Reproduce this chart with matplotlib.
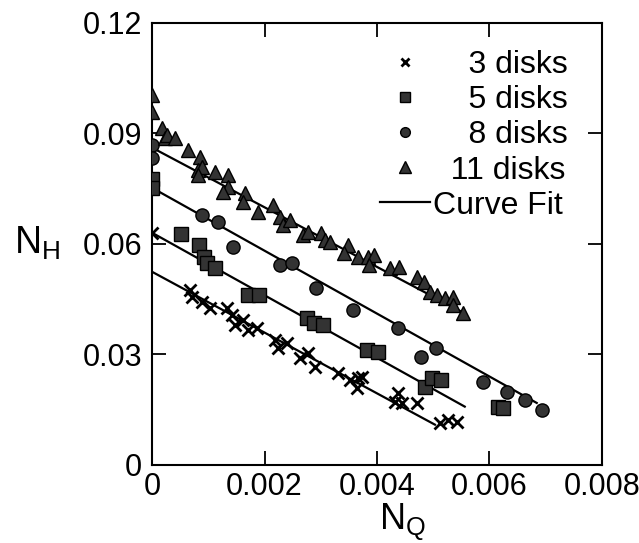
"""N_H vs N_Q for disk stacks, with linear curve fits"""
import matplotlib
matplotlib.use('Agg')
import matplotlib.pyplot as plt
from matplotlib.lines import Line2D

plt.rcParams['font.family'] = ['Liberation Sans', 'DejaVu Sans']
plt.rcParams['mathtext.default'] = 'regular'

# measured points
x3 = [0.0, 0.00068, 0.00071, 0.00089, 0.00103, 0.00133, 0.00142, 0.00148, 0.00162, 0.00171,
      0.00187, 0.00219, 0.00224, 0.0024, 0.00263, 0.00277, 0.0029, 0.00331, 0.00352, 0.00366,
      0.00373, 0.00364, 0.00437, 0.00432, 0.00444, 0.00471, 0.00512, 0.00526, 0.00542]
y3 = [0.063, 0.0475, 0.0456, 0.0443, 0.0426, 0.0426, 0.0407, 0.038, 0.0394, 0.0367,
      0.0372, 0.0339, 0.0318, 0.0331, 0.0291, 0.0304, 0.0266, 0.025, 0.0231, 0.0236,
      0.0239, 0.0209, 0.0195, 0.0171, 0.0168, 0.0168, 0.0114, 0.0122, 0.0117]

x5 = [0.0, 0.0, 0.00052, 0.00084, 0.00092, 0.00098, 0.00112, 0.00171, 0.0019, 0.00276,
      0.00288, 0.00304, 0.00382, 0.00402, 0.00486, 0.00498, 0.00514, 0.00615, 0.00624]
y5 = [0.0775, 0.0752, 0.0627, 0.0597, 0.0565, 0.0548, 0.0535, 0.0462, 0.0462, 0.0399,
      0.0386, 0.038, 0.0312, 0.0307, 0.0212, 0.0236, 0.0231, 0.0158, 0.0155]

x8 = [0.0, 0.0, 0.00089, 0.00117, 0.00144, 0.00228, 0.00249, 0.00292, 0.00357, 0.00437,
      0.00478, 0.00505, 0.00588, 0.00631, 0.00663, 0.00693]
y8 = [0.0869, 0.0834, 0.0679, 0.066, 0.0592, 0.0543, 0.0548, 0.0481, 0.0421, 0.0372,
      0.0293, 0.0318, 0.0225, 0.0198, 0.0176, 0.0149]

x11 = [0.0, 0.0, 0.00018, 0.00023, 0.00027, 0.00041, 0.00064, 0.00085, 0.00082, 0.00089,
       0.00082, 0.00112, 0.00135, 0.00135, 0.00126, 0.00165, 0.00162, 0.00188, 0.00215, 0.00228,
       0.00233, 0.00245, 0.00268, 0.00277, 0.0030, 0.00308, 0.00317, 0.00348, 0.00341, 0.00366,
       0.00384, 0.00395, 0.00386, 0.00423, 0.00439, 0.00471, 0.00484, 0.00494, 0.00507, 0.00521,
       0.00535, 0.00535, 0.00553]
y11 = [0.1005, 0.0958, 0.0915, 0.0888, 0.0896, 0.0888, 0.0855, 0.0836, 0.0801, 0.0809,
       0.0787, 0.0795, 0.0787, 0.0755, 0.0741, 0.0738, 0.0714, 0.0687, 0.0706, 0.0673,
       0.0652, 0.0665, 0.0624, 0.0633, 0.063, 0.0611, 0.0606, 0.0597, 0.0576, 0.0565,
       0.0565, 0.057, 0.0543, 0.0535, 0.0538, 0.051, 0.0497, 0.047, 0.0462, 0.0453,
       0.0456, 0.0434, 0.0413]

# curve fit end points
fit3_x, fit3_y = [0.0, 0.00503], [0.0524, 0.0109]
fit5_x, fit5_y = [0.0, 0.00556], [0.063, 0.0158]
fit8_x, fit8_y = [0.0, 0.00684], [0.0752, 0.0168]
fit11_x, fit11_y = [0.0, 0.00551], [0.0861, 0.0415]

xticks = [0, 0.002, 0.004, 0.006, 0.008]
xlabels = ['0', '0.002', '0.004', '0.006', '0.008']
yticks = [0, 0.03, 0.06, 0.09, 0.12]
ylabels = ['0', '0.03', '0.06', '0.09', '0.12']

fill = '#333333'

fig = plt.figure(figsize=(6.39, 5.43), dpi=100)
ax = fig.add_axes([0.238, 0.144, 0.704, 0.814])

for fx, fy in [(fit3_x, fit3_y), (fit5_x, fit5_y), (fit8_x, fit8_y), (fit11_x, fit11_y)]:
    ax.plot(fx, fy, color='black', lw=1.6, zorder=2)

ax.plot(x3, y3, ls='none', marker='x', ms=9, mew=2, color='black', zorder=3)
ax.plot(x5, y5, ls='none', marker='s', ms=9.5, mfc=fill, mec='black', mew=1, zorder=3)
ax.plot(x8, y8, ls='none', marker='o', ms=9.5, mfc=fill, mec='black', mew=1, zorder=3)
ax.plot(x11, y11, ls='none', marker='^', ms=10.5, mfc=fill, mec='black', mew=1, zorder=3)

ax.set_xlim(0, 0.008)
ax.set_ylim(0, 0.12)
ax.set_xticks(xticks)
ax.set_xticklabels(xlabels)
ax.set_yticks(yticks)
ax.set_yticklabels(ylabels)
ax.tick_params(direction='in', length=10, width=1.3, top=True, right=True,
               labelsize=22)
ax.tick_params(axis='x', pad=5)
ax.tick_params(axis='y', pad=7)
for s in ax.spines.values():
    s.set_linewidth(1.5)

ax.set_xlabel(r'N$_{Q}$', fontsize=26)
ax.xaxis.set_label_coords(0.556, -0.085)
ax.set_ylabel(r'N$_{H}$', fontsize=27, rotation=0, ha='center', va='center')
ax.yaxis.set_label_coords(-0.255, 0.5)

handles = [
    Line2D([], [], ls='none', marker='x', ms=6, mew=2, color='black'),
    Line2D([], [], ls='none', marker='s', ms=7, mfc=fill, mec='black'),
    Line2D([], [], ls='none', marker='o', ms=7, mfc=fill, mec='black'),
    Line2D([], [], ls='none', marker='^', ms=8, mfc=fill, mec='black'),
    Line2D([], [], color='black', lw=1.6),
]
labels = ['    3 disks', '    5 disks', '    8 disks', '  11 disks', 'Curve Fit']
ax.legend(handles, labels, loc='upper right', frameon=False, fontsize=23,
          handlelength=1.55, handletextpad=0.1, labelspacing=0.16,
          borderaxespad=0.0, bbox_to_anchor=(0.952, 0.967))

fig.savefig('out.png', dpi=100)
